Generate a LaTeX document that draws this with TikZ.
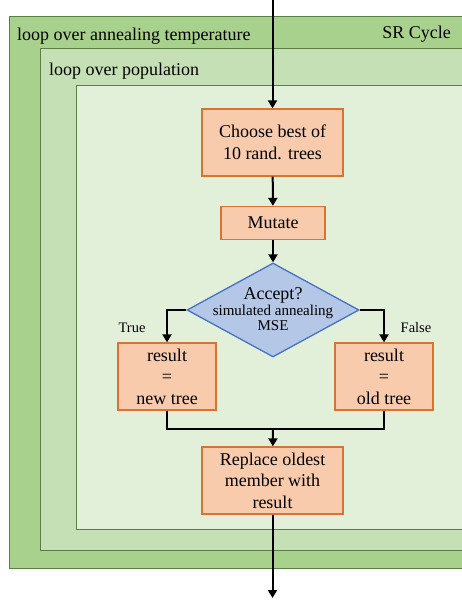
\documentclass[tikz,border=0pt]{standalone}
\usepackage{fontspec}
\setmainfont{Liberation Serif}
\usetikzlibrary{positioning,arrows.meta,shapes.geometric}
\definecolor{anneal}{HTML}{A9D18E}
\definecolor{popul}{HTML}{C5E0B4}
\definecolor{inner}{HTML}{E2F0D9}
\definecolor{frame}{HTML}{5A7F45}
\definecolor{peach}{HTML}{F8CBAD}
\definecolor{orange}{HTML}{D9742F}
\definecolor{sky}{HTML}{B4C7E7}
\definecolor{navy}{HTML}{4472C4}
\tikzset{
  stepbox/.style={draw=orange,fill=peach,line width=1.3pt,align=center,inner sep=0pt,font=\fontsize{18}{21.5}\selectfont},
  flow/.style={-{Triangle[length=8pt,width=9pt]},black,line width=2pt},
  loop/.style={anchor=west,inner sep=0pt,font=\fontsize{18}{21.5}\selectfont}
}

\begin{document}
\begin{tikzpicture}[x=1pt,y=-1pt]
  \useasboundingbox (0,0) rectangle (462,604);
  \clip (0,0) rectangle (462,604);
  \fill[white] (0,0) rectangle (462,604);
  \draw[draw=frame,fill=anneal,line width=1pt] (9,17) rectangle (480,568);
  \draw[draw=frame,fill=popul,line width=1pt] (40,49) rectangle (480,550);
  \draw[draw=frame,fill=inner,line width=1pt] (76,86) rectangle (480,529);
  \node[loop] (tlabel) at (17,36){loop over annealing temperature};
  \node[loop,anchor=east] (srlabel) at (451,34){SR Cycle};
  \node[loop] (plabel) at (49,71){loop over population};
  \coordinate (start) at (272.5,0);
  \node[stepbox,minimum width=141pt,minimum height=67pt] (choose) at (272.5,142.5){Choose best of\\10 rand. trees};
  \node[stepbox,minimum width=104pt,minimum height=33pt] (mutate) at (273,223){Mutate};
  \node[diamond,draw=navy,fill=sky,line width=1.3pt,minimum width=172pt,minimum height=94pt,inner sep=0pt] (accept) at (273,310){};
  \node[align=center,inner sep=0pt] (accepttext) at (273,309){{\fontsize{18}{20}\selectfont Accept?}\\[1pt]{\fontsize{15}{17}\selectfont simulated annealing}\\{\fontsize{15}{18}\selectfont MSE}};
  \node[stepbox,minimum width=98pt,minimum height=67pt] (newres) at (167,376.5){result\\=\\new tree};
  \node[stepbox,minimum width=98pt,minimum height=67pt] (oldres) at (384,376.5){result\\=\\old tree};
  \node[font=\fontsize{14.5}{16}\selectfont,inner sep=0pt] (truelab) at (132,328){True};
  \node[font=\fontsize{14.5}{16}\selectfont,inner sep=0pt] (falselab) at (416,328){False};
  \coordinate (merge) at (273,429);
  \node[stepbox,minimum width=141pt,minimum height=67pt] (replace) at (272.5,480.5){Replace oldest\\member with\\result};
  \coordinate (finish) at (272.5,598);
  \draw[flow] (start)--(choose);
  \draw[flow] (choose)--(mutate);
  \draw[flow] (mutate)--(accept);
  \draw[flow] (accept.west)-|(newres.north);
  \draw[flow] (accept.east)-|(oldres.north);
  \draw[black,line width=2pt] (newres.south)|-(merge)-|(oldres.south);
  \draw[flow] (merge)--(replace);
  \draw[flow] (replace)--(finish);
\end{tikzpicture}
\end{document}
